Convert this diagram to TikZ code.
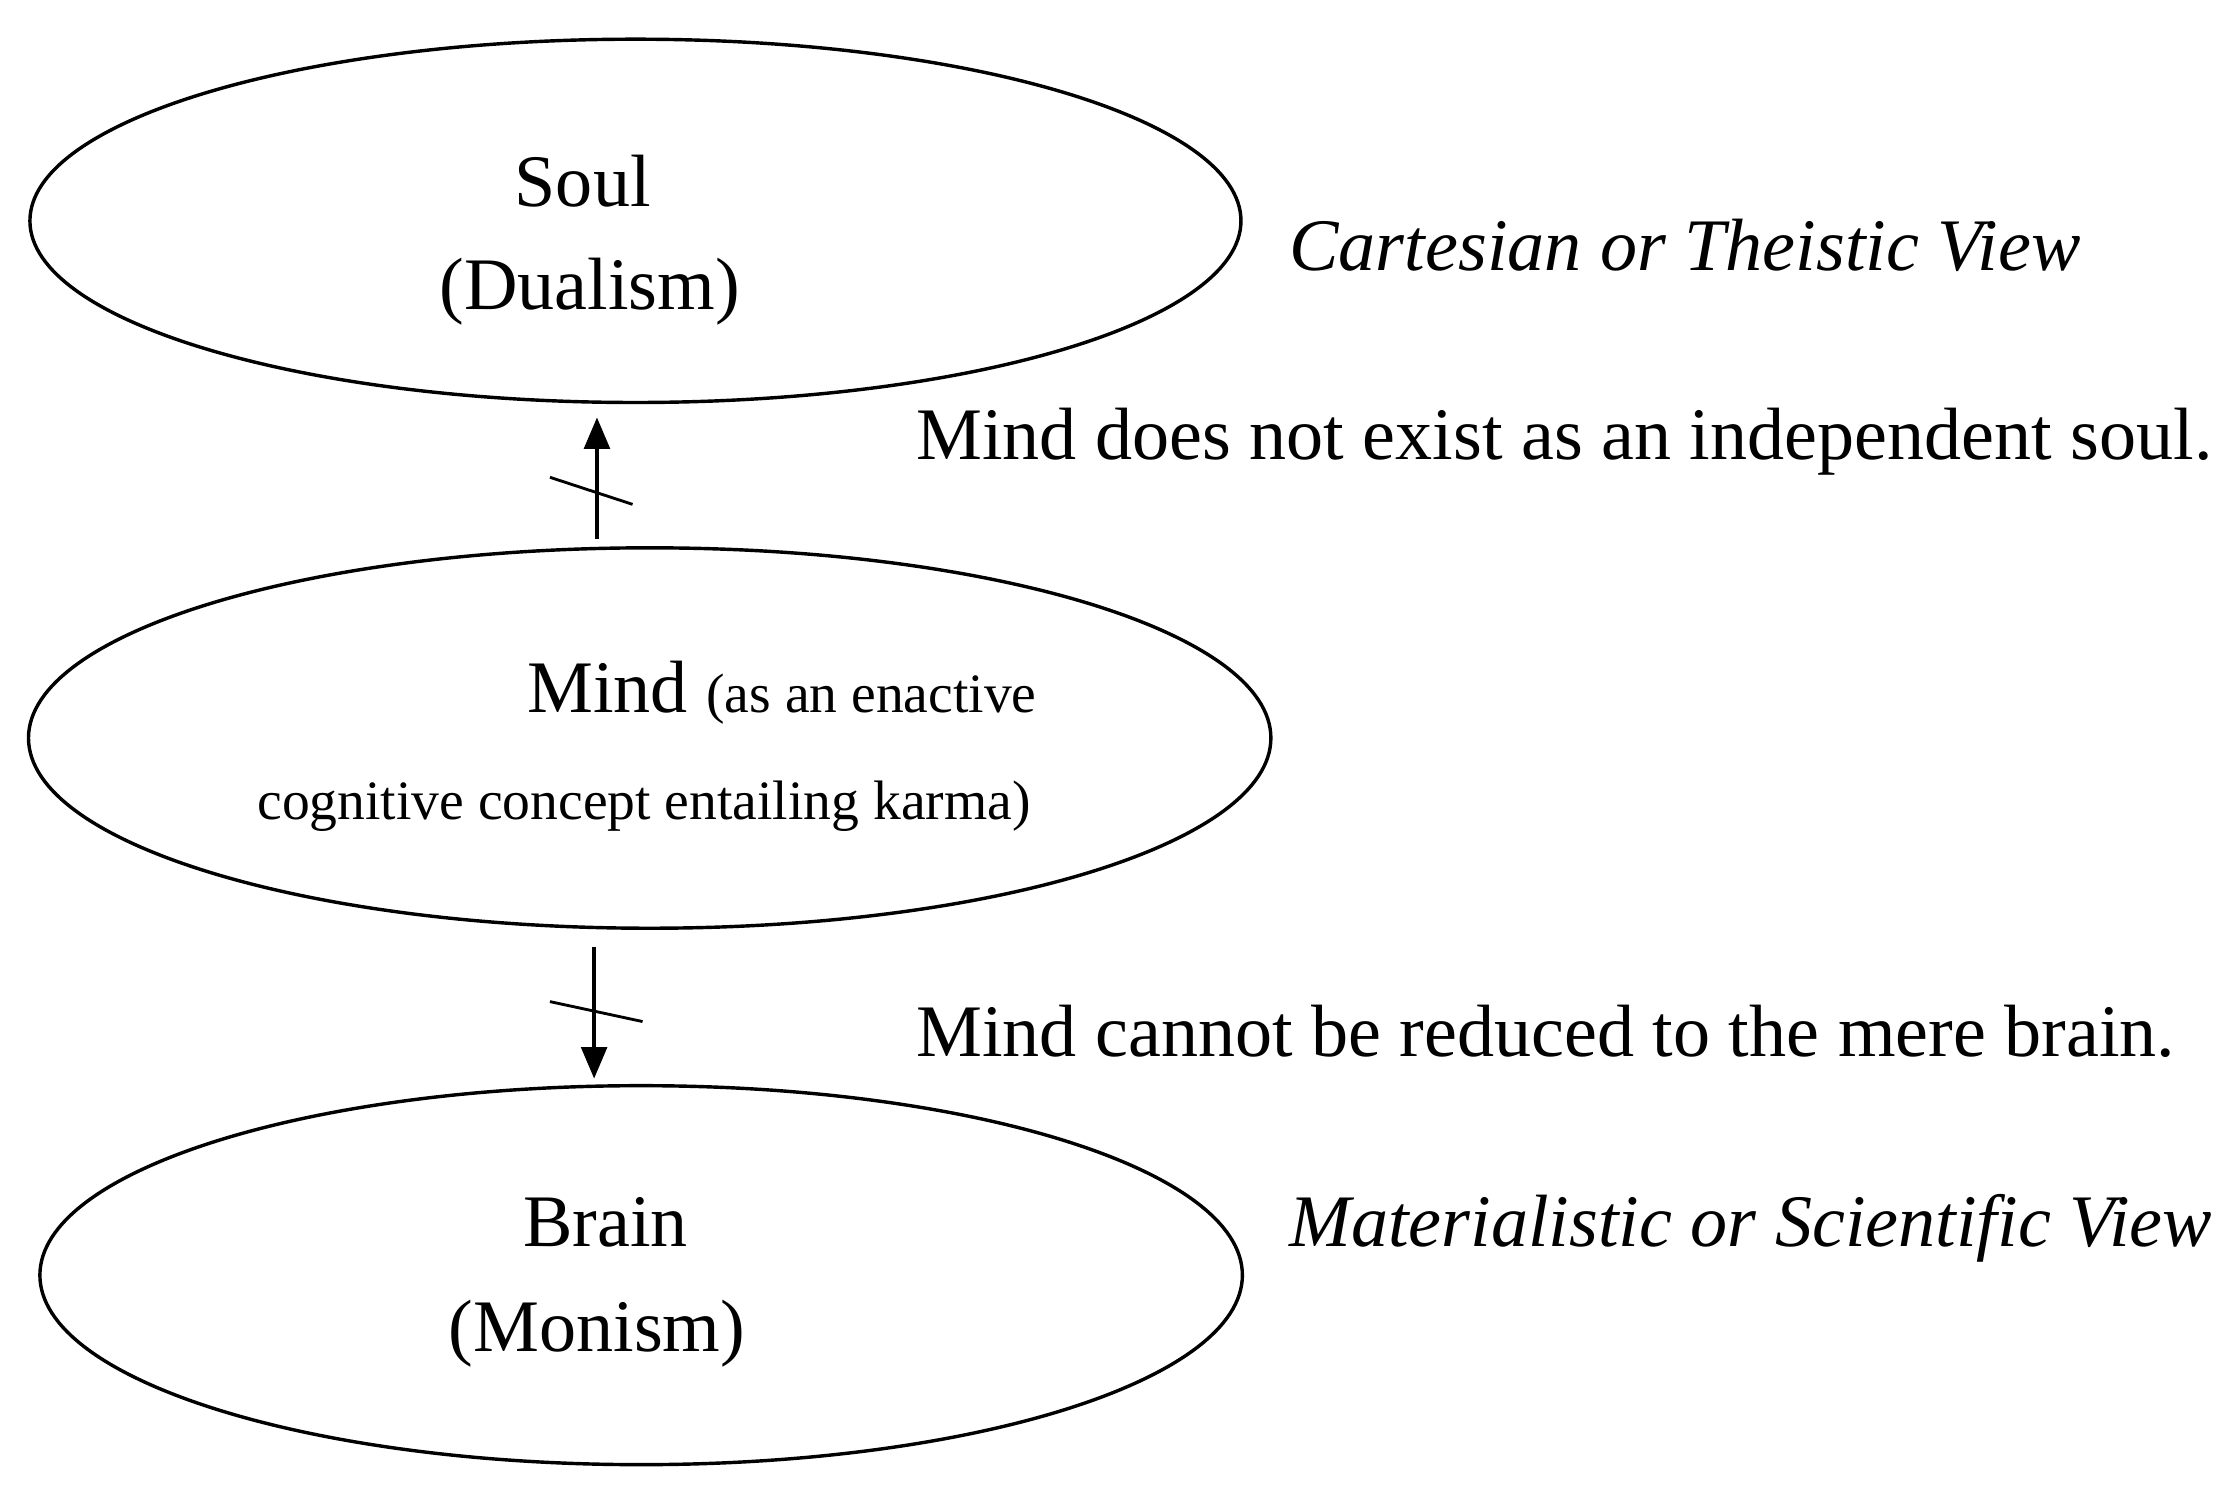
\documentclass[tikz,border=0pt]{standalone}
\usepackage{fontspec}
\setmainfont{Liberation Serif}
\usetikzlibrary{shapes.geometric,arrows.meta}
\begin{document}
\begin{tikzpicture}[x=0.5pt,y=-0.5pt,
  ell/.style={draw,ellipse,line width=1.2pt,inner sep=0pt},
  big/.style={font=\fontsize{26}{30}\selectfont},
  arr/.style={line width=1.2pt,-{Triangle[length=11pt,width=9pt]}},
  tick/.style={line width=1pt}]
\useasboundingbox (0,0) rectangle (1568,1050);
\node[ell,minimum width=850pt*0.5,minimum height=255pt*0.5] (soul) at (446,155) {};
\node[ell,minimum width=872pt*0.5,minimum height=267pt*0.5] (mind) at (456,518) {};
\node[ell,minimum width=844pt*0.5,minimum height=266pt*0.5] (brain) at (450,895) {};
\node[big] (t1) at (409,127) {Soul};
\node[big] (t2) at (414,205) {(Dualism)};
\node[big,anchor=base west] (t3) at (363,500) {Mind \fontsize{19.5}{22}\selectfont(as an enactive};
\node[anchor=base,font=\fontsize{19.5}{22}\selectfont] (t4) at (452,575) {cognitive concept entailing karma)};
\node[big] (t5) at (425,858) {Brain};
\node[big] (t6) at (419,936) {(Monism)};
\node[big,anchor=west,font=\fontsize{26}{30}\selectfont\itshape] (c1) at (898,172) {Cartesian or Theistic View};
\node[big,anchor=west] (c2) at (636,310) {Mind does not exist as an independent soul.};
\node[big,anchor=west] (c3) at (636,724) {Mind cannot be reduced to the mere brain.};
\node[big,anchor=west,font=\fontsize{26}{30}\selectfont\itshape] (c4) at (898,862) {Materialistic or Scientific View};
\coordinate (a1s) at (419,378); \coordinate (a1e) at (419,293);
\coordinate (a2s) at (417,665); \coordinate (a2e) at (417,757);
\coordinate (k1a) at (386,335); \coordinate (k1b) at (444,354);
\coordinate (k2a) at (386,703); \coordinate (k2b) at (451,717);
\draw[arr] (a1s) -- (a1e);
\draw[arr] (a2s) -- (a2e);
\draw[tick] (k1a) -- (k1b);
\draw[tick] (k2a) -- (k2b);
\end{tikzpicture}
\end{document}
